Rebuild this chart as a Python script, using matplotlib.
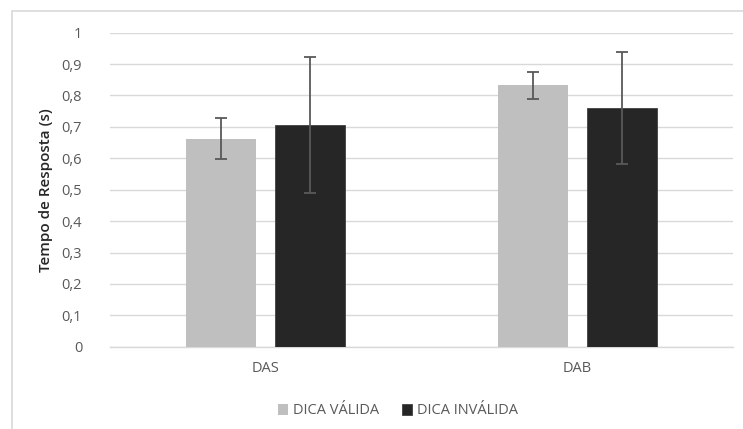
import numpy as np
import matplotlib.pyplot as plt
from matplotlib.patches import Rectangle

# Data
categories = ["DAS", "DAB"]
series_names = ["DICA VÁLIDA", "DICA INVÁLIDA"]
valida = [0.663, 0.832]
valida_err = [0.066, 0.043]
invalida = [0.705, 0.759]
invalida_err = [0.217, 0.178]
y_ticks = [0, 0.1, 0.2, 0.3, 0.4, 0.5, 0.6, 0.7, 0.8, 0.9, 1.0]

plt.rcParams['font.family'] = ['Open Sans', 'DejaVu Sans']

W, H = 743, 429
fig = plt.figure(figsize=(W / 100, H / 100), dpi=100)

# plot area in pixels: x 110..733, y 32.7..346.7
ax = fig.add_axes([110 / W, 1 - 346.7 / H, 623 / W, 314 / H])

x = np.arange(len(categories))
width = 0.225
offset = 0.143
err_kw = dict(ecolor='#595959', elinewidth=1.3, capsize=4, capthick=1.3)

ax.bar(x - offset, valida, width, yerr=valida_err, color='#BFBFBF',
       label=series_names[0], error_kw=err_kw, zorder=3)
ax.bar(x + offset, invalida, width, yerr=invalida_err, color='#262626',
       edgecolor='#404040', linewidth=0.6,
       label=series_names[1], error_kw=err_kw, zorder=3)

ax.set_xlim(-0.5, 1.5)
ax.set_ylim(0, 1)
ax.set_yticks(y_ticks)
ax.set_yticklabels([("%g" % t).replace('.', ',') for t in y_ticks])
ax.set_xticks(x)
ax.set_xticklabels(categories)

ax.grid(axis='y', color='#D9D9D9', linewidth=1, zorder=0)
ax.set_axisbelow(True)
for s in ['top', 'right', 'left']:
    ax.spines[s].set_visible(False)
ax.spines['bottom'].set_color('#D9D9D9')
ax.spines['bottom'].set_linewidth(1)

ax.tick_params(axis='both', length=0, colors='#595959', labelsize=10.5)
ax.tick_params(axis='y', pad=20)
ax.tick_params(axis='x', pad=10)

ax.set_ylabel("Tempo de Resposta (s)", fontsize=11, color='#262626',
              fontweight='semibold', labelpad=6)

leg = fig.legend(loc='center', bbox_to_anchor=(398 / W, 1 - 411 / H), ncol=2,
                 frameon=False, fontsize=10.5, handlelength=0.7,
                 handleheight=0.7, handletextpad=0.3, columnspacing=1.6)
for t in leg.get_texts():
    t.set_color('#595959')

# outer chart frame (cut off at right and bottom)
fig.patches.append(Rectangle((12 / W, -0.1), 1.1, 1 - 11 / H + 0.1,
                             transform=fig.transFigure, fill=False,
                             edgecolor='#D9D9D9', linewidth=1.2))

fig.savefig("out.png", dpi=100)
